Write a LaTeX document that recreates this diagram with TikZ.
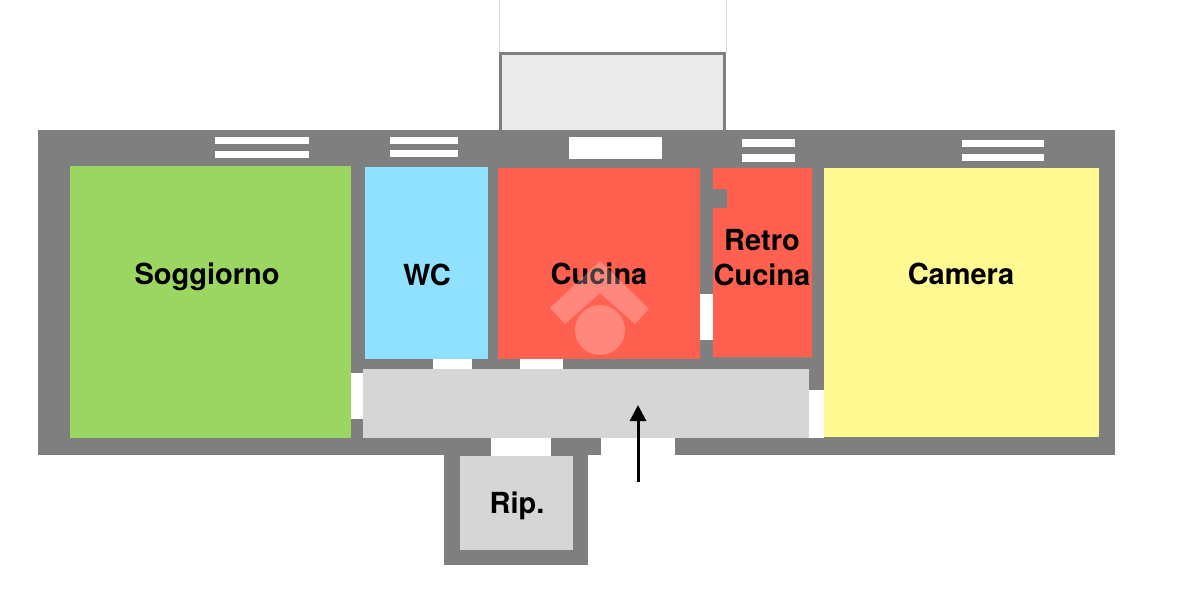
\documentclass[tikz,border=0pt]{standalone}
\usepackage{fontspec}
\setmainfont{TeX Gyre Heros}
\usepackage{xcolor}
\usetikzlibrary{arrows.meta}
\definecolor{wallgray}{HTML}{7F7F7F}
\definecolor{hallgray}{HTML}{D6D6D6}
\definecolor{terrace}{HTML}{EBEBEB}
\definecolor{livegreen}{HTML}{9BD662}
\definecolor{bathblue}{HTML}{90E1FF}
\definecolor{kitchenred}{HTML}{FF604F}
\definecolor{bedyellow}{HTML}{FFF991}
\tikzset{
  wall/.style={fill=wallgray},
  gap/.style={fill=white},
  roomname/.style={font=\fontsize{14.5}{17.5}\selectfont\bfseries, align=center, text=black, inner sep=0pt},
  logomark/.style={fill=white, fill opacity=0.25}
}
\begin{document}
\begin{tikzpicture}[x=0.5pt,y=-0.5pt]
    \useasboundingbox (0,0) rectangle (1200,616);
    % terrace
    \draw[black!15, line width=0.4pt] (499,0) -- (499,52) (726,0) -- (726,52);
    \fill[wall] (499,52) rectangle (726,131);
    \fill[terrace] (502,55) rectangle (723,131);
    % walls
    \fill[wall] (38,130) rectangle (1115,455);
    \fill[wall] (444,455) rectangle (588,565);
    % openings on the outside
    \fill[gap] (601,438) rectangle (675,456);
    \fill[gap] (491,438) rectangle (551,456);
    \fill[gap] (588,455) rectangle (675,470);
    \fill[gap] (351,373) rectangle (363,419);
    \fill[gap] (809,390) rectangle (824,438);
    \fill[gap] (433,359) rectangle (472,370);
    \fill[gap] (520,359) rectangle (563,370);
    \fill[gap] (700,294) rectangle (713,340);
    % windows
    \fill[gap] (215,137) rectangle (309,144);
    \fill[gap] (215,151) rectangle (309,158);
    \fill[gap] (390,137) rectangle (458,144);
    \fill[gap] (390,150) rectangle (458,157);
    \fill[gap] (569,137) rectangle (662,159);
    \fill[gap] (742,139) rectangle (795,147);
    \fill[gap] (742,154) rectangle (795,162);
    \fill[gap] (962,140) rectangle (1044,147);
    \fill[gap] (962,154) rectangle (1044,161);
    % rooms
    \fill[livegreen] (70,166) rectangle (351,438);
    \fill[bathblue] (365,167) rectangle (488,359);
    \fill[kitchenred] (498,168) rectangle (700,359);
    \fill[kitchenred] (713,168) -- (812,168) -- (812,357) -- (713,357) -- (713,208) -- (727,208) -- (727,189) -- (713,189) -- cycle;
    \fill[bedyellow] (824,168) rectangle (1099,437);
    \fill[hallgray] (363,369) rectangle (809,438);
    \fill[hallgray] (460,456) rectangle (573,550);
    % names
    \node[roomname] (soggiorno) at (207,277) {Soggiorno};
    \node[roomname] (wc) at (427,275) {WC};
    \node[roomname] (cucina) at (599,274) {Cucina};
    \node[roomname] (retro) at (762,258) {Retro\\Cucina};
    \node[roomname] (camera) at (961,274) {Camera};
    \node[roomname] (rip) at (517,506) {Rip.};
    % mark over the kitchen
    \fill[logomark] (600,330) circle (25);
    \fill[logomark] (600,261) -- (649,309) -- (635,324) -- (600,293) -- (565,324) -- (550,308) -- cycle;
    % entrance
    \coordinate (entryfrom) at (638,482);
    \coordinate (entryto) at (638,405);
    \draw[-{Triangle[length=8pt,width=8pt]}, line width=1.5pt, black] (entryfrom) -- (entryto);
\end{tikzpicture}
\end{document}
